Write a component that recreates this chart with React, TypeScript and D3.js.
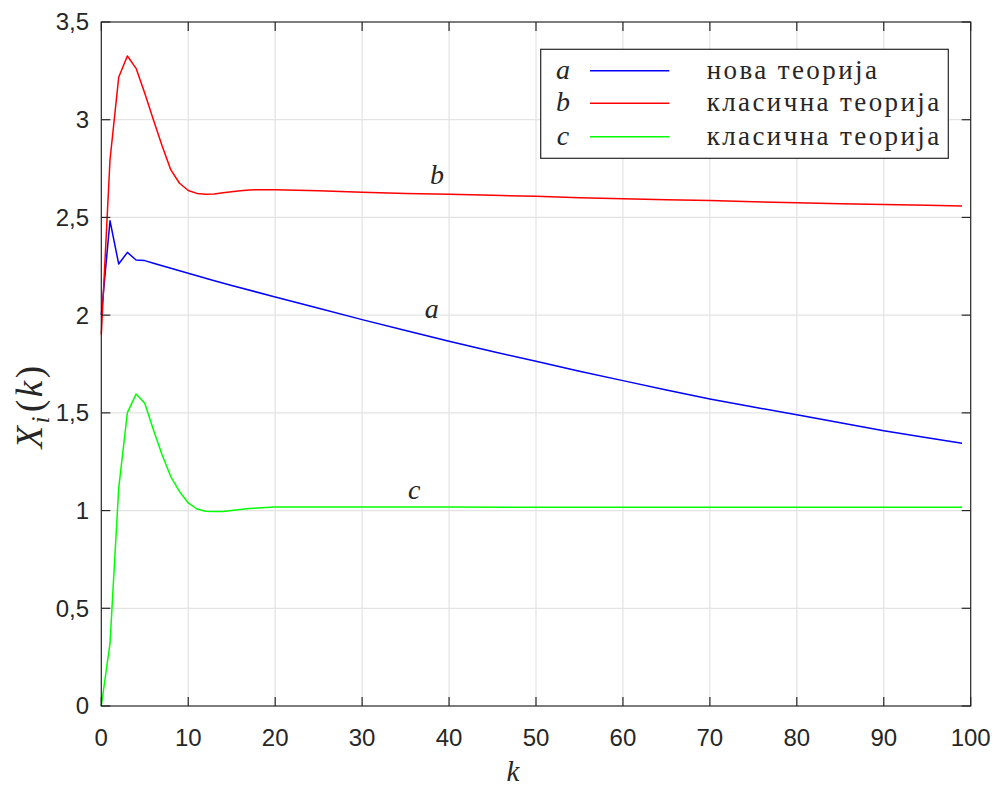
import React from "react";
import * as d3 from "d3";

// ---- data ----
const kA = [0, 1, 2, 3, 4, 5, 6, 7, 8, 9, 10, 13, 15, 20, 25, 30, 35, 40, 45, 50, 55, 60, 65, 70, 75, 80, 85, 90, 95, 99];
const valsA = [2.0, 2.483, 2.262, 2.321, 2.282, 2.279, 2.266, 2.253, 2.24, 2.227, 2.214, 2.176, 2.152, 2.093, 2.035, 1.977, 1.921, 1.866, 1.814, 1.764, 1.713, 1.665, 1.617, 1.571, 1.53, 1.49, 1.449, 1.409, 1.373, 1.344];

const kB = [0, 1, 2, 3, 4, 5, 6, 7, 8, 9, 10, 11, 12, 13, 14, 15, 16, 17, 18, 19, 20, 25, 30, 35, 40, 45, 50, 55, 60, 65, 70, 75, 80, 85, 90, 95, 99];
const valsB = [1.9, 2.794, 3.217, 3.326, 3.263, 3.135, 2.999, 2.866, 2.743, 2.675, 2.638, 2.623, 2.618, 2.62, 2.626, 2.632, 2.637, 2.64, 2.642, 2.642, 2.642, 2.636, 2.629, 2.623, 2.618, 2.613, 2.608, 2.601, 2.596, 2.591, 2.586, 2.58, 2.575, 2.57, 2.566, 2.562, 2.558];

const kC = [0, 1, 2, 3, 4, 5, 6, 7, 8, 9, 10, 11, 12, 13, 14, 15, 16, 17, 18, 19, 20, 30, 40, 50, 60, 70, 80, 90, 99];
const valsC = [0, 0.32, 1.114, 1.501, 1.596, 1.549, 1.412, 1.284, 1.173, 1.097, 1.039, 1.008, 0.997, 0.995, 0.995, 1.0, 1.005, 1.01, 1.013, 1.016, 1.018, 1.018, 1.018, 1.017, 1.017, 1.017, 1.017, 1.017, 1.017];

const xTicks = [0, 10, 20, 30, 40, 50, 60, 70, 80, 90, 100];
const yTicks = [0, 0.5, 1, 1.5, 2, 2.5, 3, 3.5];

const seriesNames = ["a", "b", "c"];
const legendLabels = ["нова теорија", "класична теорија", "класична теорија"];
const seriesColors = ["#0000ff", "#ff0000", "#00ff00"];

// in-plot labels: [k, value] positions
const labelK = [38.0, 38.6, 36.0];
const labelY = [1.985, 2.671, 1.059];

export default function App() {
  const W = 999, H = 787;
  const left = 101.3, right = 970.7, top = 22, bottom = 706;
  const x = d3.scaleLinear().domain([0, 100]).range([left, right]);
  const y = d3.scaleLinear().domain([0, 3.5]).range([bottom, top]);
  const axisColor = "#262626";
  const gridColor = "#e3e3e3";
  const tickLen = 9;

  const series = [
    { k: kA, v: valsA },
    { k: kB, v: valsB },
    { k: kC, v: valsC },
  ];
  const line = d3
    .line<[number, number]>()
    .x((d) => x(d[0]))
    .y((d) => y(d[1]));

  const fmt = (v: number) => String(v).replace(".", ",");

  const lgX = 540.7, lgY = 49.3, lgW = 407.6, lgH = 109;
  const rowY = [70.7, 103.3, 136.7];

  return (
    <svg
      width={W}
      height={H}
      style={{ position: "absolute", left: 0, top: 0, background: "#fff" }}
    >
      <rect x={0} y={0} width={W} height={H} fill="#fff" />
      {/* grid */}
      {xTicks.slice(1, -1).map((t) => (
        <line key={"gx" + t} x1={x(t)} x2={x(t)} y1={top} y2={bottom} stroke={gridColor} strokeWidth={1.2} />
      ))}
      {yTicks.slice(1, -1).map((t) => (
        <line key={"gy" + t} x1={left} x2={right} y1={y(t)} y2={y(t)} stroke={gridColor} strokeWidth={1.2} />
      ))}
      {/* series */}
      {series.map((s, i) => (
        <path
          key={"s" + i}
          d={line(s.k.map((k, j) => [k, s.v[j]] as [number, number])) || ""}
          fill="none"
          stroke={seriesColors[i]}
          strokeWidth={1.5}
          strokeLinejoin="round"
        />
      ))}
      {/* box */}
      <rect x={left} y={top} width={right - left} height={bottom - top} fill="none" stroke={axisColor} strokeWidth={1.2} />
      {/* ticks */}
      {xTicks.map((t) => (
        <g key={"tx" + t}>
          <line x1={x(t)} x2={x(t)} y1={bottom} y2={bottom - tickLen} stroke={axisColor} strokeWidth={1.2} />
          <line x1={x(t)} x2={x(t)} y1={top} y2={top + tickLen} stroke={axisColor} strokeWidth={1.2} />
          <text x={x(t)} y={746} textAnchor="middle" fontFamily="Liberation Sans, Arial, sans-serif" fontSize={24} fill={axisColor}>
            {fmt(t)}
          </text>
        </g>
      ))}
      {yTicks.map((t) => (
        <g key={"ty" + t}>
          <line x1={left} x2={left + tickLen} y1={y(t)} y2={y(t)} stroke={axisColor} strokeWidth={1.2} />
          <line x1={right} x2={right - tickLen} y1={y(t)} y2={y(t)} stroke={axisColor} strokeWidth={1.2} />
          <text x={89} y={y(t)} dy="0.35em" textAnchor="end" fontFamily="Liberation Sans, Arial, sans-serif" fontSize={24} fill={axisColor}>
            {fmt(t)}
          </text>
        </g>
      ))}
      {/* axis labels */}
      <text x={513} y={781} textAnchor="middle" fontFamily="Liberation Serif, serif" fontStyle="italic" fontSize={29} fill={axisColor}>
        k
      </text>
      <text
        transform="translate(42,406) rotate(-90)"
        textAnchor="middle"
        fontFamily="Liberation Serif, serif"
        fontSize={37}
        fill={axisColor}
        letterSpacing={2.5}
      >
        <tspan fontStyle="italic">X</tspan>
        <tspan fontStyle="italic" fontSize={25} dy={7}>i</tspan>
        <tspan dy={-7} dx={2}>(</tspan>
        <tspan fontStyle="italic">k</tspan>
        <tspan>)</tspan>
      </text>
      {/* in-plot labels */}
      {seriesNames.map((n, i) => (
        <text key={"l" + i} x={x(labelK[i])} y={y(labelY[i])} textAnchor="middle" fontFamily="Liberation Serif, serif" fontStyle="italic" fontSize={28} fill={axisColor}>
          {n}
        </text>
      ))}
      {/* legend */}
      <rect x={lgX} y={lgY} width={lgW} height={lgH} fill="#fff" stroke={axisColor} strokeWidth={1.2} />
      {seriesNames.map((n, i) => (
        <g key={"lg" + i}>
          <text x={563} y={rowY[i] + 8} textAnchor="middle" fontFamily="Liberation Serif, serif" fontStyle="italic" fontSize={28} fill={axisColor}>
            {n}
          </text>
          <line x1={590} x2={669.3} y1={rowY[i]} y2={rowY[i]} stroke={seriesColors[i]} strokeWidth={1.5} />
          <text x={706.7} y={rowY[i] + 8} fontFamily="Liberation Serif, serif" fontSize={27} letterSpacing={2.4} fill={axisColor}>
            {legendLabels[i]}
          </text>
        </g>
      ))}
    </svg>
  );
}
